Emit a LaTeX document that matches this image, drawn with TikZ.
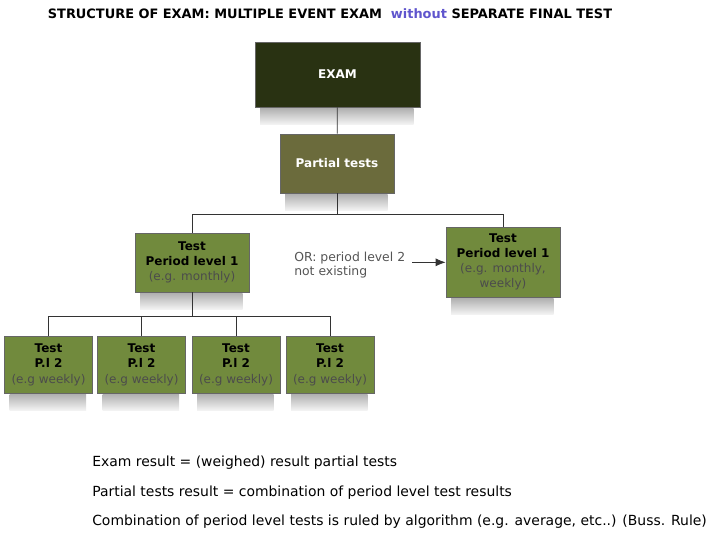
\documentclass[tikz,border=0pt]{standalone}
\usepackage{fontspec}
\setmainfont{DejaVu Sans}
\usetikzlibrary{positioning,arrows.meta}
\definecolor{examdark}{RGB}{41,50,18}
\definecolor{partolive}{RGB}{107,107,60}
\definecolor{testgreen}{RGB}{113,138,61}
\definecolor{notegray}{RGB}{85,85,85}
\definecolor{withoutblue}{RGB}{95,85,205}
\tikzset{
  box/.style={draw=black!60, line width=0.5pt, align=center, inner sep=1pt,
    font=\fontsize{9}{11.3}\selectfont},
  exambox/.style={box, fill=examdark, text=white, font=\fontsize{9}{11.3}\selectfont\bfseries,
    minimum width=123.75pt, minimum height=48.75pt},
  partbox/.style={box, fill=partolive, text=white, font=\fontsize{9}{11.3}\selectfont\bfseries,
    minimum width=85.5pt, minimum height=44.25pt},
  levelbox/.style={box, fill=testgreen, minimum width=85.5pt, minimum height=44.25pt},
  weekbox/.style={box, fill=testgreen, minimum width=66pt, minimum height=42.75pt,
    font=\fontsize{9}{11.6}\selectfont},
  link/.style={line width=0.6pt, draw=black!80},
  resline/.style={anchor=west, inner sep=0pt, font=\fontsize{10.45}{12}\selectfont},
}
\newcommand{\sub}[1]{{\color{black!70}#1}}
\begin{document}
\begin{tikzpicture}[x=0.75pt,y=-0.75pt]
  \useasboundingbox (0,0) rectangle (711,533);
  % title
  \node (title) at (330,14) {\fontsize{9.7}{11}\selectfont\bfseries
    STRUCTURE OF EXAM: MULTIPLE EVENT EXAM\ \ {\color{withoutblue}without} SEPARATE FINAL TEST};
  % boxes
  \node[exambox] (exam) at (337.5,74.5) {EXAM};
  \node[partbox] (partial) at (337,163.5) {Partial tests};
  \node[levelbox] (level) at (192,262.5) {\textbf{Test}\\\textbf{Period level 1}\\\sub{(e.g. monthly)}};
  \node[levelbox, minimum height=52.5pt] (levelr) at (503,262) {\textbf{Test}\\\textbf{Period level 1}\\\sub{(e.g. monthly,}\\\sub{weekly)}};
  \foreach \i/\x in {1/48.5,2/141.5,3/236,4/330}
    \node[weekbox] (week\i) at (\x,364.5) {\textbf{Test}\\\textbf{P.l 2}\\\sub{(e.g weekly)}};
  % shadows
  \foreach \n in {exam,partial,level,levelr,week1,week2,week3,week4}
    \shade[top color=black!30, middle color=black!50, bottom color=black!4]
      ([xshift=4pt,yshift=-1pt]\n.south west) rectangle ([xshift=-5pt,yshift=-13pt]\n.south east);
  % connectors
  \draw[link] (exam) -- (partial);
  \draw[link] (partial.south) -- ++(0,21) -| (level.north);
  \draw[link] (partial.south) -- ++(0,21) -| (levelr.north);
  \foreach \i in {1,...,4}
    \draw[link] (level.south) -- ++(0,24) -| (week\i.north);
  % note
  \node[anchor=west, align=left, text=notegray, inner sep=0pt,
    font=\fontsize{9.3}{10.6}\selectfont] (ortext) at (294,265) {OR: period level 2\\not existing};
  \draw[link, -{Latex[length=7.5pt,width=6pt]}] ([xshift=5pt,yshift=2pt]ortext.east) -- ([yshift=2pt]ortext.east -| levelr.west);
  % results
  \node[resline] (res1) at (92,463) {Exam result = (weighed) result partial tests};
  \node[resline] (res2) at (92,493) {Partial tests result = combination of period level test results};
  \node[resline] (res3) at (92,522) {Combination of period level tests is ruled by algorithm (e.g. average, etc..) (Buss. Rule)};
\end{tikzpicture}
\end{document}
